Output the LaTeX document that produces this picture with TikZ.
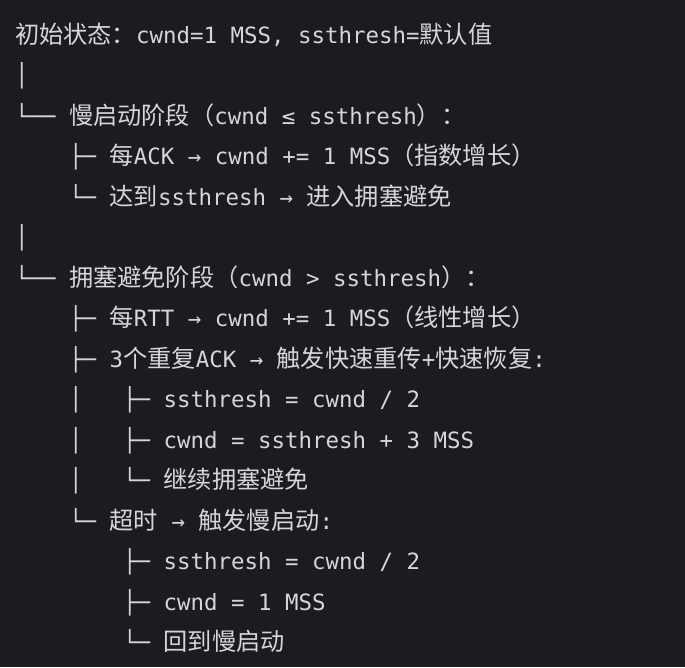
\documentclass[tikz,border=0pt]{standalone}
\usepackage{fontspec}
\newfontfamily\monof{DejaVu Sans Mono}
\newfontfamily\zhf{Noto Sans CJK SC}
\definecolor{bgc}{HTML}{1B1C21}
\definecolor{fgc}{HTML}{D6D6D6}
\newcommand\zh[1]{{\zhf\fontsize{24.2pt}{40pt}\selectfont #1}}
\tikzset{
  codeline/.style={anchor=base west, inner sep=0pt, text=fgc,
    font=\monof\fontsize{22.42pt}{40pt}\selectfont}
}
\begin{document}
\begin{tikzpicture}[x=1pt,y=-1pt]
\fill[bgc] (0,0) rectangle (685,667);
\useasboundingbox (0,0) rectangle (685,667);
\node[codeline] (l1) at (15,43) {\zh{初始状态：}cwnd=1 MSS, ssthresh=\zh{默认值}};
\node[codeline] (l2) at (15,83.5) {│};
\node[codeline] (l3) at (15,124) {└──~\zh{慢启动阶段（}cwnd ≤ ssthresh\zh{）：}};
\node[codeline] (l4) at (69,164.5) {├─~\zh{每}ACK → cwnd += 1 MSS\zh{（指数增长）}};
\node[codeline] (l5) at (69,205) {└─~\zh{达到}ssthresh → \zh{进入拥塞避免}};
\node[codeline] (l6) at (15,245.5) {│};
\node[codeline] (l7) at (15,286) {└──~\zh{拥塞避免阶段（}cwnd > ssthresh\zh{）：}};
\node[codeline] (l8) at (69,326.5) {├─~\zh{每}RTT → cwnd += 1 MSS\zh{（线性增长）}};
\node[codeline] (l9) at (69,367) {├─~3\zh{个重复}ACK → \zh{触发快速重传}+\zh{快速恢复}:};
\node[codeline] (l10) at (69,407.5) {│~~~├─~ssthresh = cwnd / 2};
\node[codeline] (l11) at (69,448) {│~~~├─~cwnd = ssthresh + 3 MSS};
\node[codeline] (l12) at (69,488.5) {│~~~└─~\zh{继续拥塞避免}};
\node[codeline] (l13) at (69,529) {└─~\zh{超时} → \zh{触发慢启动}:};
\node[codeline] (l14) at (123,569.5) {├─~ssthresh = cwnd / 2};
\node[codeline] (l15) at (123,610) {├─~cwnd = 1 MSS};
\node[codeline] (l16) at (123,650.5) {└─~\zh{回到慢启动}};
\end{tikzpicture}
\end{document}
